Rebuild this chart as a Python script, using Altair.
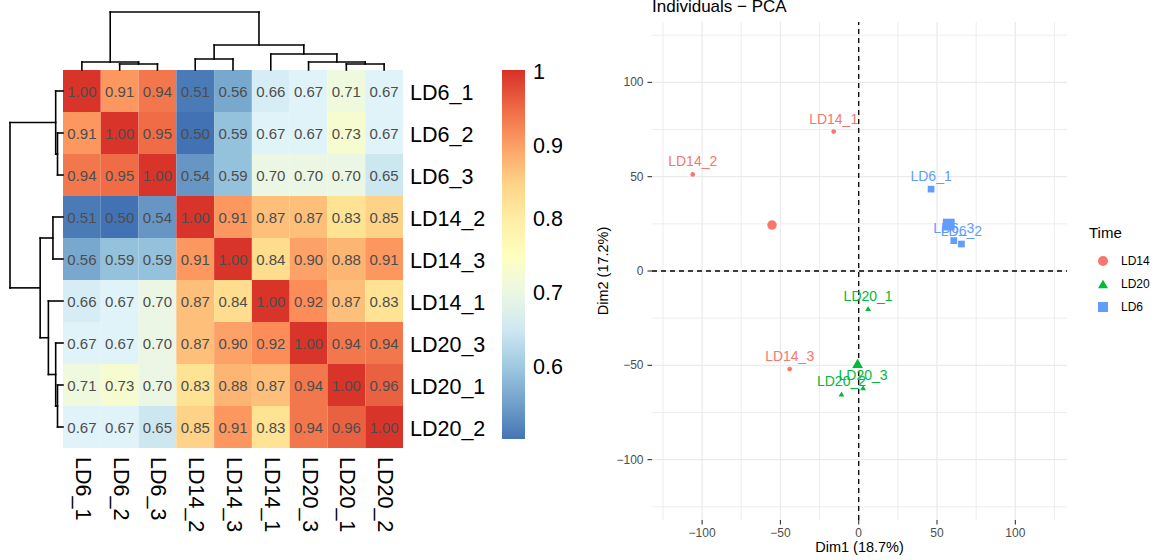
import altair as alt
import pandas as pd

# ---------------- data ----------------
samples = ["LD6_1", "LD6_2", "LD6_3", "LD14_2", "LD14_3", "LD14_1", "LD20_3", "LD20_1", "LD20_2"]
corr_values = [
    [1.00, 0.91, 0.94, 0.51, 0.56, 0.66, 0.67, 0.71, 0.67],
    [0.91, 1.00, 0.95, 0.50, 0.59, 0.67, 0.67, 0.73, 0.67],
    [0.94, 0.95, 1.00, 0.54, 0.59, 0.70, 0.70, 0.70, 0.65],
    [0.51, 0.50, 0.54, 1.00, 0.91, 0.87, 0.87, 0.83, 0.85],
    [0.56, 0.59, 0.59, 0.91, 1.00, 0.84, 0.90, 0.88, 0.91],
    [0.66, 0.67, 0.70, 0.87, 0.84, 1.00, 0.92, 0.87, 0.83],
    [0.67, 0.67, 0.70, 0.87, 0.90, 0.92, 1.00, 0.94, 0.94],
    [0.71, 0.73, 0.70, 0.83, 0.88, 0.87, 0.94, 1.00, 0.96],
    [0.67, 0.67, 0.65, 0.85, 0.91, 0.83, 0.94, 0.96, 1.00],
]
# hierarchical clustering merges (same tree for rows and columns); "#k" = k-th merge
merge_a = ["LD6_2", "LD20_1", "LD6_1", "LD20_3", "LD14_2", "LD14_1", "#4", "#2"]
merge_b = ["LD6_3", "LD20_2", "#0", "#1", "LD14_3", "#3", "#5", "#6"]
merge_h = [6, 6, 8, 8, 11, 16, 25, 58]
legend_values = [0.6, 0.7, 0.8, 0.9, 1.0]

pca_names = ["LD14_1", "LD14_2", "LD14_3", "LD20_1", "LD20_2", "LD20_3", "LD6_1", "LD6_2", "LD6_3"]
pca_time = ["LD14", "LD14", "LD14", "LD20", "LD20", "LD20", "LD6", "LD6", "LD6"]
pca_dim1 = [-16.0, -106.0, -44.1, 6.0, -11.0, 2.8, 46.2, 65.6, 60.7]
pca_dim2 = [73.9, 51.2, -52.0, -19.9, -65.2, -61.9, 43.4, 14.3, 16.1]
time_levels = ["LD14", "LD20", "LD6"]
pca_ticks = [-100, -50, 0, 50, 100]
pca_tick_labels = ["\u2212100", "\u221250", "0", "50", "100"]
pca_minor = [-125, -75, -25, 25, 75, 125]
pca_title = "Individuals \u2212 PCA"
xlab_text = "Dim1 (18.7%)"
ylab_text = "Dim2 (17.2%)"

# ---------------- styles / layout ----------------
FONT = "Liberation Sans"
heat_palette = ["#4575B4", "#91BFDB", "#E0F3F8", "#FFFFBF", "#FEE090", "#FC8D59", "#D73027"]
time_colors = ["#F8766D", "#00BA38", "#619CFF"]
time_shapes = ["circle", "triangle-up", "square"]

n = len(samples)
HX = alt.Scale(domain=[0, n], range=[63, 403], nice=False, zero=False)
HY = alt.Scale(domain=[0, n], range=[70, 448], nice=False, zero=False)
root_h = max(merge_h)
TOPH = alt.Scale(domain=[0, root_h], range=[70, 12], nice=False, zero=False)
LEFTH = alt.Scale(domain=[0, root_h], range=[63, 10], nice=False, zero=False)

XLIM = [-132, 133]
YLIM = [-132, 132]
PXR = [652, 1067]
PYR = [520, 22]
PX = alt.Scale(domain=XLIM, range=PXR, nice=False, zero=False)
PY = alt.Scale(domain=YLIM, range=PYR, nice=False, zero=False)

lo, hi = 0.503, 1.004
heat_domain = [lo + k * (hi - lo) / 6 for k in range(7)]
heat_scale = alt.Scale(domain=heat_domain, range=heat_palette, interpolate="rgb")

# ---------------- heatmap ----------------
cells = pd.DataFrame(
    [{"r": i, "c": j, "value": corr_values[i][j]} for i in range(n) for j in range(n)]
)
cells["r2"] = cells["r"] + 1
cells["c2"] = cells["c"] + 1
cells["rm"] = cells["r"] + 0.5
cells["cm"] = cells["c"] + 0.5

heat_cells = alt.Chart(cells).mark_rect().encode(
    x=alt.X("c:Q", scale=HX, axis=None),
    x2="c2:Q",
    y=alt.Y("r:Q", scale=HY, axis=None),
    y2="r2:Q",
    color=alt.Color(
        "value:Q",
        scale=heat_scale,
        legend=alt.Legend(
            title=None, orient="none", legendX=502, legendY=70, direction="vertical",
            gradientLength=369, gradientThickness=23, gradientStrokeWidth=0,
            values=legend_values, format="~g", labelFontSize=21.5, labelColor="black",
            labelOffset=8, labelOverlap=False, padding=0,
        ),
    ),
)

heat_text = alt.Chart(cells).mark_text(fontSize=15, color="#4D4D4D", dy=1).encode(
    x=alt.X("cm:Q", scale=HX, axis=None),
    y=alt.Y("rm:Q", scale=HY, axis=None),
    text=alt.Text("value:Q", format=".2f"),
)

lab = pd.DataFrame({"name": samples, "mid": [i + 0.5 for i in range(n)], "edge": [n] * n})

row_lab = alt.Chart(lab).mark_text(
    fontSize=21.5, color="black", align="left", baseline="middle", dx=7, dy=2.5
).encode(
    x=alt.X("edge:Q", scale=HX, axis=None),
    y=alt.Y("mid:Q", scale=HY, axis=None),
    text="name:N",
)

col_lab = alt.Chart(lab).mark_text(
    fontSize=21.5, color="black", align="left", baseline="middle", angle=90, dx=9
).encode(
    x=alt.X("mid:Q", scale=HX, axis=None),
    y=alt.Y("edge:Q", scale=HY, axis=None),
    text="name:N",
)

# dendrogram segments computed from the merge tree
pos = {s: i + 0.5 for i, s in enumerate(samples)}
hgt = {s: 0.0 for s in samples}
segs = []
for k, (a, b, h) in enumerate(zip(merge_a, merge_b, merge_h)):
    pa, ha = pos[a], hgt[a]
    pb, hb = pos[b], hgt[b]
    segs += [(pa, pa, ha, h), (pb, pb, hb, h), (pa, pb, h, h)]
    pos["#%d" % k] = (pa + pb) / 2
    hgt["#%d" % k] = h
seg_df = pd.DataFrame(segs, columns=["p1", "p2", "h1", "h2"])

top_dendro = alt.Chart(seg_df).mark_rule(color="black", strokeWidth=1.6, strokeCap="square").encode(
    x=alt.X("p1:Q", scale=HX, axis=None),
    x2="p2:Q",
    y=alt.Y("h1:Q", scale=TOPH, axis=None),
    y2="h2:Q",
)
left_dendro = alt.Chart(seg_df).mark_rule(color="black", strokeWidth=1.6, strokeCap="square").encode(
    x=alt.X("h1:Q", scale=LEFTH, axis=None),
    x2="h2:Q",
    y=alt.Y("p1:Q", scale=HY, axis=None),
    y2="p2:Q",
)

# ---------------- PCA ----------------
grid_df = pd.DataFrame({
    "v": pca_minor + pca_ticks,
    "kind": ["minor"] * len(pca_minor) + ["major"] * len(pca_ticks),
})
grid_df["x0"] = XLIM[0]
grid_df["x1"] = XLIM[1]
grid_df["y0"] = YLIM[0]
grid_df["y1"] = YLIM[1]
gw = alt.StrokeWidth("kind:N", scale=alt.Scale(domain=["minor", "major"], range=[0.9, 1.3]), legend=None)

grid_v = alt.Chart(grid_df).mark_rule(color="#EBEBEB").encode(
    x=alt.X("v:Q", scale=PX, axis=None),
    y=alt.Y("y0:Q", scale=PY, axis=None),
    y2="y1:Q",
    strokeWidth=gw,
)
grid_h = alt.Chart(grid_df).mark_rule(color="#EBEBEB").encode(
    y=alt.Y("v:Q", scale=PY, axis=None),
    x=alt.X("x0:Q", scale=PX, axis=None),
    x2="x1:Q",
    strokeWidth=gw,
)

zero_df = pd.DataFrame({"z": [0], "x0": [XLIM[0]], "x1": [XLIM[1]], "y0": [YLIM[0]], "y1": [YLIM[1]]})
zero_v = alt.Chart(zero_df).mark_rule(color="black", strokeWidth=1.3, strokeDash=[5, 4]).encode(
    x=alt.X("z:Q", scale=PX, axis=None),
    y=alt.Y("y0:Q", scale=PY, axis=None),
    y2="y1:Q",
)
zero_h = alt.Chart(zero_df).mark_rule(color="black", strokeWidth=1.3, strokeDash=[5, 4]).encode(
    y=alt.Y("z:Q", scale=PY, axis=None),
    x=alt.X("x0:Q", scale=PX, axis=None),
    x2="x1:Q",
)

TICK_PX = 4.5
ux = TICK_PX * (XLIM[1] - XLIM[0]) / (PXR[1] - PXR[0])
uy = TICK_PX * (YLIM[1] - YLIM[0]) / (PYR[0] - PYR[1])
tick_df = pd.DataFrame({"v": pca_ticks, "label": pca_tick_labels})
tick_df["xa"] = XLIM[0]
tick_df["xb"] = XLIM[0] - ux
tick_df["ya"] = YLIM[0]
tick_df["yb"] = YLIM[0] - uy

ytick = alt.Chart(tick_df).mark_rule(color="#333333", strokeWidth=1.1).encode(
    y=alt.Y("v:Q", scale=PY, axis=None),
    x=alt.X("xb:Q", scale=PX, axis=None),
    x2="xa:Q",
)
xtick = alt.Chart(tick_df).mark_rule(color="#333333", strokeWidth=1.1).encode(
    x=alt.X("v:Q", scale=PX, axis=None),
    y=alt.Y("yb:Q", scale=PY, axis=None),
    y2="ya:Q",
)
ylabels = alt.Chart(tick_df).mark_text(fontSize=12, color="#4D4D4D", align="right", baseline="middle", dx=-4).encode(
    y=alt.Y("v:Q", scale=PY, axis=None),
    x=alt.X("xb:Q", scale=PX, axis=None),
    text="label:N",
)
xlabels = alt.Chart(tick_df).mark_text(fontSize=12, color="#4D4D4D", align="center", baseline="middle", dy=8.5).encode(
    x=alt.X("v:Q", scale=PX, axis=None),
    y=alt.Y("yb:Q", scale=PY, axis=None),
    text="label:N",
)

ttl_df = pd.DataFrame({
    "t": [xlab_text, ylab_text, pca_title],
    "x": [(XLIM[0] + XLIM[1]) / 2, XLIM[0], XLIM[0]],
    "y": [YLIM[0], (YLIM[0] + YLIM[1]) / 2, YLIM[1]],
})
xtitle = alt.Chart(ttl_df.iloc[[0]]).mark_text(fontSize=14.5, color="black", baseline="middle", dy=27.5).encode(
    x=alt.X("x:Q", scale=PX, axis=None), y=alt.Y("y:Q", scale=PY, axis=None), text="t:N")
ytitle = alt.Chart(ttl_df.iloc[[1]]).mark_text(fontSize=14.5, color="black", baseline="middle", angle=270, dy=-48).encode(
    x=alt.X("x:Q", scale=PX, axis=None), y=alt.Y("y:Q", scale=PY, axis=None), text="t:N")
ptitle = alt.Chart(ttl_df.iloc[[2]]).mark_text(fontSize=17, color="black", align="left", baseline="alphabetic", dy=-10.3).encode(
    x=alt.X("x:Q", scale=PX, axis=None), y=alt.Y("y:Q", scale=PY, axis=None), text="t:N")

pca_df = pd.DataFrame({"name": pca_names, "Time": pca_time, "dim1": pca_dim1, "dim2": pca_dim2})

time_color = alt.Scale(domain=time_levels, range=time_colors)
time_shape = alt.Scale(domain=time_levels, range=time_shapes)
time_legend = alt.Legend(
    title="Time", orient="none", legendX=1089, legendY=226, padding=0,
    titleFontSize=15, titleFontWeight="normal", titleColor="black",
    labelFontSize=12, labelColor="black", symbolSize=100, symbolOffset=8,
    labelOffset=12, rowPadding=11, titlePadding=14,
)

points = alt.Chart(pca_df).mark_point(filled=True, opacity=1).encode(
    x=alt.X("dim1:Q", scale=PX, axis=None),
    y=alt.Y("dim2:Q", scale=PY, axis=None),
    color=alt.Color("Time:N", scale=time_color, legend=time_legend),
    shape=alt.Shape("Time:N", scale=time_shape, legend=time_legend),
    size=alt.Size("Time:N", scale=alt.Scale(domain=time_levels, range=[22, 45, 36]), legend=None),
)
centroids = alt.Chart(pca_df).transform_aggregate(
    cx="mean(dim1)", cy="mean(dim2)", groupby=["Time"]
).mark_point(filled=True, opacity=1).encode(
    x=alt.X("cx:Q", scale=PX, axis=None),
    y=alt.Y("cy:Q", scale=PY, axis=None),
    color=alt.Color("Time:N", scale=time_color, legend=time_legend),
    shape=alt.Shape("Time:N", scale=time_shape, legend=time_legend),
    size=alt.Size("Time:N", scale=alt.Scale(domain=time_levels, range=[90, 140, 100]), legend=None),
)
pca_pts = alt.layer(points, centroids).resolve_scale(size="independent")

pca_labels = alt.Chart(pca_df).mark_text(fontSize=14, baseline="middle", dy=-12).encode(
    x=alt.X("dim1:Q", scale=PX, axis=None),
    y=alt.Y("dim2:Q", scale=PY, axis=None),
    text="name:N",
    color=alt.Color("Time:N", scale=time_color, legend=None),
)

chart = alt.layer(
    heat_cells, heat_text, row_lab, col_lab, top_dendro, left_dendro,
    grid_v, grid_h, zero_v, zero_h, ytick, xtick, ylabels, xlabels,
    xtitle, ytitle, ptitle, pca_pts, pca_labels,
).resolve_scale(
    x="independent", y="independent", color="independent",
    shape="independent", size="independent", strokeWidth="independent",
).properties(
    width=1155, height=560, padding=0,
    autosize=alt.AutoSizeParams(type="none"), background="white",
).configure(font=FONT, view=alt.ViewConfig(stroke=None))

chart.save("out.html", embed_options={"renderer": "svg", "actions": False})
